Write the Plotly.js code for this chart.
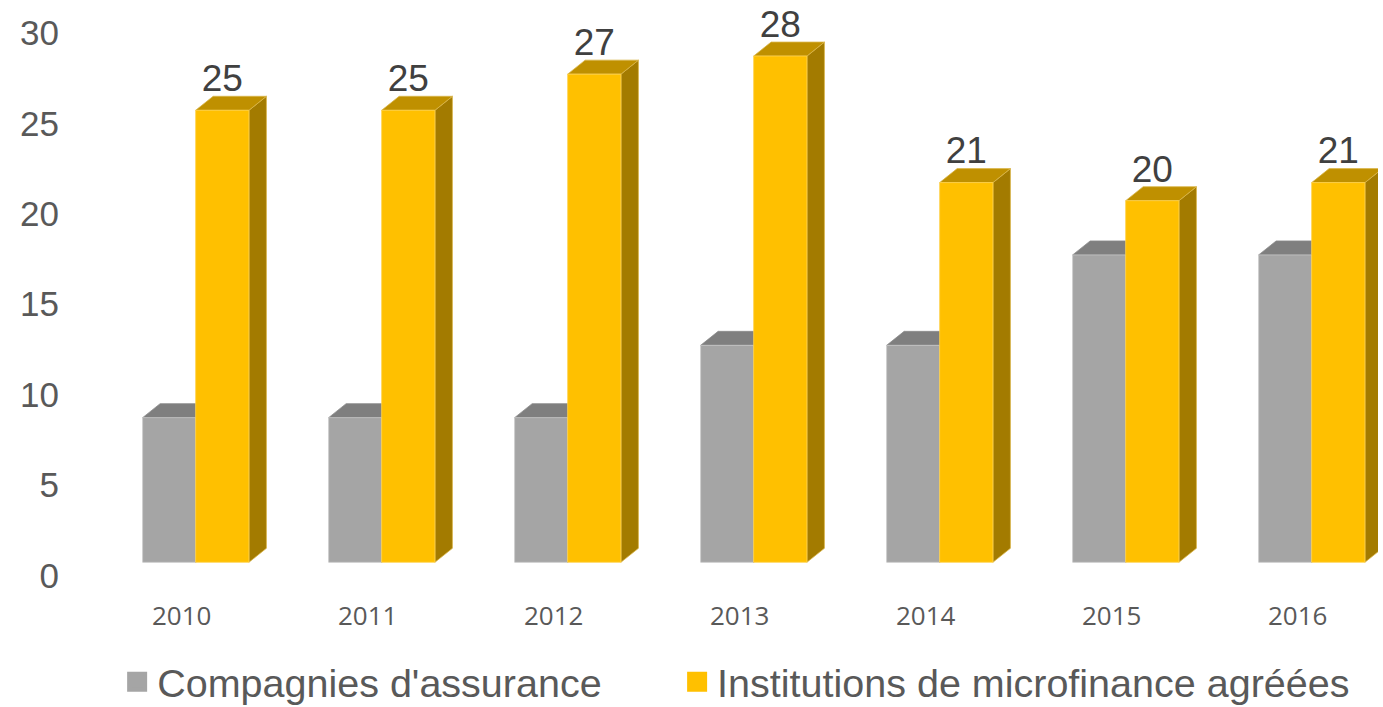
<!DOCTYPE html>
<html>
<head>
<meta charset="utf-8">
<script src="https://cdn.plot.ly/plotly-3.0.1.min.js"></script>
<style>html,body{margin:0;padding:0;background:#fff;}#chart{width:1383px;height:707px;}</style>
</head>
<body>
<div id="chart"></div>
<script>
// ---- data ----
const years = ['2010', '2011', '2012', '2013', '2014', '2015', '2016'];
const assurance = [8, 8, 8, 12, 12, 17, 17];
const microfinance = [25, 25, 27, 28, 21, 20, 21];
const seriesNames = ["Compagnies d'assurance", 'Institutions de microfinance agréées'];
const yTicks = [0, 5, 10, 15, 20, 25, 30];

// ---- geometry of the pseudo-3D bars (in category units / value units) ----
const X0 = -0.2097, XM = 0.0753, X1 = 0.3618; // front face edges
const DX = 0.094, DY = 0.774;                  // depth offset
const LABEL_GAP = 0.55;                         // data label offset above bar

function frontFace(vals, a, b) {
  const x = [], y = [];
  vals.forEach((v, i) => { x.push(i + a, i + b, i + b, i + a, i + a, null); y.push(0, 0, v, v, 0, null); });
  return {x, y};
}
function topFace(vals, a, b) {
  const x = [], y = [];
  vals.forEach((v, i) => { x.push(i + a, i + a + DX, i + b + DX, i + b, i + a, null); y.push(v, v + DY, v + DY, v, v, null); });
  return {x, y};
}
function sideFace(vals, b) {
  const x = [], y = [];
  vals.forEach((v, i) => { x.push(i + b, i + b + DX, i + b + DX, i + b, i + b, null); y.push(0, DY, v + DY, v, 0, null); });
  return {x, y};
}
function face(poly, fill, line) {
  return {type: 'scatter', mode: 'lines', x: poly.x, y: poly.y, fill: 'toself', fillcolor: fill,
          line: {color: line, width: 0.8}, hoverinfo: 'skip', showlegend: false, connectgaps: false};
}

const traces = [
  face(topFace(assurance, X0, XM), '#7F7F7F', '#8C8C8C'),
  face(sideFace(assurance, XM), '#6E6E6E', '#8C8C8C'),
  face(frontFace(assurance, X0, XM), '#A5A5A5', '#C8C8C8'),
  face(sideFace(microfinance, X1), '#A37B00', '#D9B54A'),
  face(topFace(microfinance, XM, X1), '#BF9000', '#D9B54A'),
  face(frontFace(microfinance, XM, X1), '#FFC000', '#FFD24D'),
  {type: 'scatter', mode: 'text', x: years.map((_, i) => i + (XM + X1) / 2), y: microfinance.map(v => v + LABEL_GAP),
   text: microfinance.map(String), textposition: 'top center',
   textfont: {family: 'Liberation Sans, Arial, sans-serif', size: 37, color: '#404040'},
   hoverinfo: 'skip', showlegend: false},
  {type: 'scatter', mode: 'markers', x: [null], y: [null], name: seriesNames[0], legend: 'legend',
   marker: {symbol: 'square', size: 16, color: '#A5A5A5', line: {color: '#A5A5A5', width: 4}}, hoverinfo: 'skip'},
  {type: 'scatter', mode: 'markers', x: [null], y: [null], name: seriesNames[1], legend: 'legend2',
   marker: {symbol: 'square', size: 16, color: '#FFC000', line: {color: '#FFC000', width: 4}}, hoverinfo: 'skip'}
];

const legendFont = {family: 'Liberation Sans, Arial, sans-serif', size: 39.5, color: '#595959'};
const layout = {
  width: 1383, height: 707,
  margin: {l: 60, r: 5, t: 0, b: 109},
  paper_bgcolor: '#ffffff', plot_bgcolor: '#ffffff',
  showlegend: true,
  xaxis: {
    range: [-0.654, 6.432], tickmode: 'array', tickvals: years.map((_, i) => i), ticktext: years,
    showgrid: false, zeroline: false, showline: false, ticks: '',
    tickfont: {family: 'Open Sans, sans-serif', size: 26, color: '#595959'}
  },
  yaxis: {
    range: [-1.975, 31.10], tickmode: 'array', tickvals: yTicks, ticktext: yTicks.map(String),
    showgrid: false, zeroline: false, showline: false, ticks: '', ticklabelshift: 13,
    tickfont: {family: 'Liberation Sans, Arial, sans-serif', size: 35, color: '#595959'}
  },
  legend: {orientation: 'h', xref: 'container', yref: 'container', x: 0.0847, y: 0.0354,
           xanchor: 'left', yanchor: 'middle', font: legendFont, bgcolor: 'rgba(0,0,0,0)'},
  legend2: {orientation: 'h', xref: 'container', yref: 'container', x: 0.4896, y: 0.0354,
            xanchor: 'left', yanchor: 'middle', font: legendFont, bgcolor: 'rgba(0,0,0,0)'}
};

Plotly.newPlot('chart', traces, layout, {displayModeBar: false, staticPlot: true});
</script>
</body>
</html>
